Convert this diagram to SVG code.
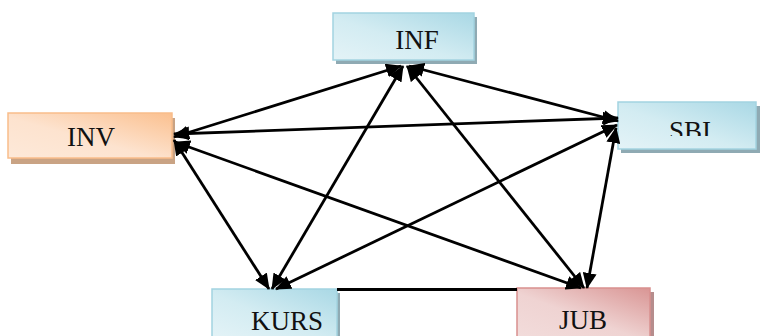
<svg xmlns="http://www.w3.org/2000/svg" width="760" height="336" viewBox="0 0 760 336">
  <defs>
    <linearGradient id="gBlue" x1="0" y1="1" x2="1" y2="0">
      <stop offset="0" stop-color="#e4f3f7"/>
      <stop offset="0.45" stop-color="#d3ecf2"/>
      <stop offset="1" stop-color="#a9d8e5"/>
    </linearGradient>
    <linearGradient id="gOrange" x1="0" y1="1" x2="1" y2="0">
      <stop offset="0" stop-color="#fde9d9"/>
      <stop offset="0.45" stop-color="#fde3cf"/>
      <stop offset="1" stop-color="#fbc08f"/>
    </linearGradient>
    <linearGradient id="gPink" x1="0" y1="1" x2="1" y2="0">
      <stop offset="0" stop-color="#f2dcdb"/>
      <stop offset="0.45" stop-color="#efd3d2"/>
      <stop offset="1" stop-color="#d99594"/>
    </linearGradient>
    <marker id="arrow" viewBox="0 0 16 14" refX="15" refY="7" markerWidth="16" markerHeight="14" markerUnits="userSpaceOnUse" orient="auto-start-reverse">
      <path d="M0,0 L16,7 L0,14 z" fill="#000"/>
    </marker>
    <clipPath id="sbiClip">
      <rect x="618" y="102" width="142" height="34"/>
    </clipPath>
  </defs>
  <style>
    .label { font-family: "Liberation Serif", "Times New Roman", serif; font-size: 27px; fill: #111; text-anchor: middle; }
    .blue { fill: url(#gBlue); stroke: #a3d3e1; stroke-width: 1.5; }
    .orange { fill: url(#gOrange); stroke: #f9bd8a; stroke-width: 1.5; }
    .pink { fill: url(#gPink); stroke: #d9908f; stroke-width: 1.5; }
    .sh-blue { fill: #8faab3; }
    .sh-orange { fill: #c9a384; }
    .sh-pink { fill: #b68d8d; }
    .edge { stroke: #000; stroke-width: 2.8; fill: none; marker-start: url(#arrow); marker-end: url(#arrow); }
    .plain { stroke: #000; stroke-width: 2.8; fill: none; }
  </style>

  <!-- nodes -->
  <g id="node-inf">
    <rect class="sh-blue" x="336" y="17" width="141" height="47"/>
    <rect class="blue" x="333" y="13" width="141" height="47"/>
    <text class="label" x="417" y="49">INF</text>
  </g>
  <g id="node-inv">
    <rect class="sh-orange" x="11" y="118" width="164" height="46"/>
    <rect class="orange" x="8" y="113" width="164" height="45"/>
    <text class="label" x="91" y="146">INV</text>
  </g>
  <g id="node-sbi">
    <rect class="sh-blue" x="621" y="106" width="139" height="47"/>
    <rect class="blue" x="618" y="102" width="138" height="47"/>
    <text class="label" x="690" y="140" clip-path="url(#sbiClip)">SBI</text>
  </g>
  <g id="node-kurs">
    <rect class="sh-blue" x="215" y="293" width="125" height="50"/>
    <rect class="blue" x="212" y="289" width="125" height="50"/>
    <text class="label" x="287" y="330">KURS</text>
  </g>
  <g id="node-jub">
    <rect class="sh-pink" x="520" y="292" width="134" height="50"/>
    <rect class="pink" x="517" y="288" width="133" height="50"/>
    <text class="label" x="583" y="329">JUB</text>
  </g>

  <!-- connectors -->
  <g id="connectors">
    <line class="edge" x1="401" y1="66" x2="174" y2="137"/>
    <line class="edge" x1="403" y1="66" x2="272" y2="289"/>
    <line class="edge" x1="407" y1="66" x2="584" y2="288"/>
    <line class="edge" x1="409" y1="66" x2="618" y2="121"/>
    <line class="edge" x1="174" y1="134" x2="618" y2="118"/>
    <line class="edge" x1="174" y1="140" x2="269" y2="289"/>
    <line class="edge" x1="175" y1="142" x2="581" y2="288"/>
    <line class="edge" x1="617" y1="125" x2="276" y2="289"/>
    <line class="edge" x1="616" y1="128" x2="587" y2="288"/>
    <line class="plain" x1="337" y1="289.5" x2="517" y2="289.5"/>
  </g>
</svg>
